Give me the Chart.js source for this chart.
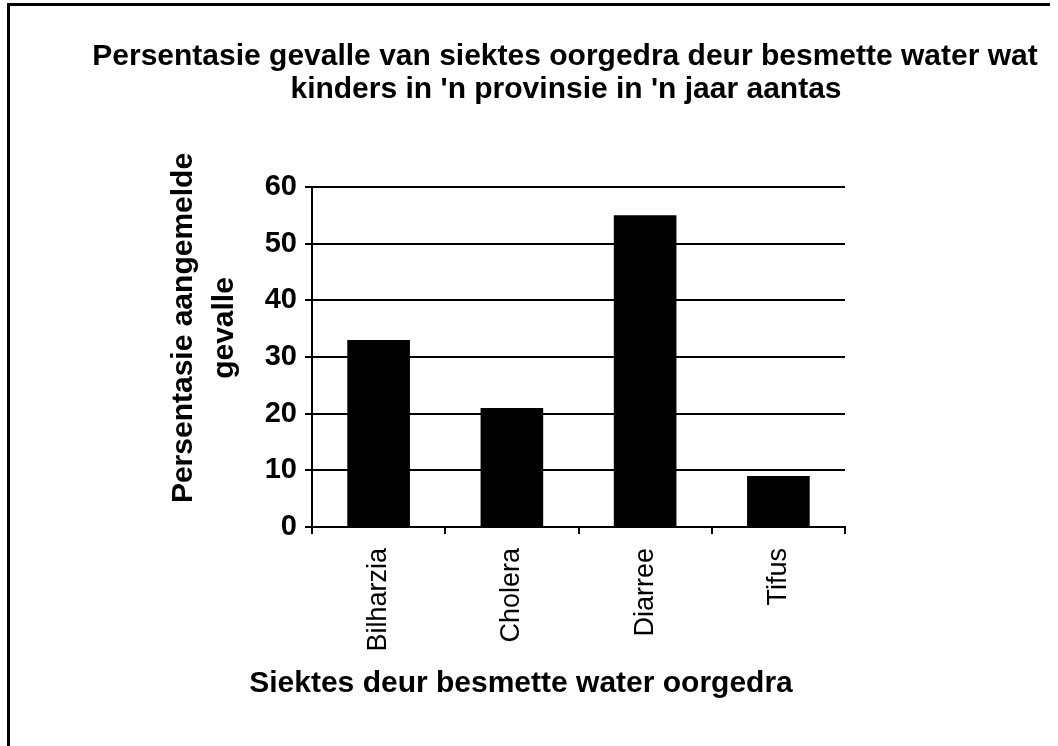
<!DOCTYPE html>
<html>
<head>
<meta charset="utf-8">
<script src="https://cdn.jsdelivr.net/npm/chart.js@4.4.0/dist/chart.umd.min.js"></script>
<style>
  html, body { margin: 0; padding: 0; background: #fff; }
  #wrap { position: relative; width: 1058px; height: 746px; overflow: hidden; }
  #frame { position: absolute; left: 7px; top: 3px; width: 1043px; height: 760px;
           border-top: 3px solid #000; border-left: 3px solid #000; box-sizing: border-box; }
  canvas { position: absolute; left: 0; top: 0; }
</style>
</head>
<body>
<div id="wrap">
  <div id="frame"></div>
  <canvas id="grafico" width="1058" height="746"></canvas>
</div>
<script>
const categorias = ["Bilharzia", "Cholera", "Diarree", "Tifus"];
const persentasie = [33, 21, 55, 9];
const tituloLinhas = ["Persentasie gevalle van siektes oorgedra deur besmette water wat", "kinders in 'n provinsie in 'n jaar aantas"];
const tituloY = ["Persentasie aangemelde", "gevalle"];
const tituloX = "Siektes deur besmette water oorgedra";
const yMin = 0, yMax = 60, yPasso = 10;

const fonte = "'Liberation Sans', Arial, sans-serif";

// titles are not centred on the plot area in the original, so draw them by hand
const textos = {
  id: "textos",
  afterDraw(chart) {
    const ctx = chart.ctx;
    ctx.save();
    ctx.fillStyle = "#000";
    ctx.textAlign = "center";
    ctx.textBaseline = "alphabetic";
    ctx.font = "bold 30px " + fonte;
    ctx.fillText(tituloLinhas[0], 565, 65);
    ctx.fillText(tituloLinhas[1], 566, 98);

    ctx.fillText(tituloX, 521, 692);

    ctx.translate(0, 328);
    ctx.rotate(-Math.PI / 2);
    ctx.fillText(tituloY[0], 0, 192);
    ctx.fillText(tituloY[1], 0, 233);
    ctx.restore();
  }
};

new Chart(document.getElementById("grafico").getContext("2d"), {
  type: "bar",
  data: {
    labels: categorias,
    datasets: [{
      data: persentasie,
      backgroundColor: "#000",
      borderWidth: 0,
      categoryPercentage: 1,
      barPercentage: 0.47
    }]
  },
  options: {
    responsive: false,
    animation: false,
    layout: { padding: { left: 252, right: 213, top: 187, bottom: 0 } },
    plugins: { legend: { display: false }, title: { display: false }, tooltip: { enabled: false } },
    scales: {
      x: {
        afterFit: s => { s.height = 219; },
        grid: { drawOnChartArea: false, drawTicks: true, tickLength: 7, color: "#000", lineWidth: 2 },
        border: { display: true, color: "#000", width: 2 },
        ticks: { color: "#000", font: { family: fonte, size: 27 }, minRotation: 90, maxRotation: 90, padding: 14 }
      },
      y: {
        min: yMin, max: yMax,
        afterFit: s => { s.width = 60; },
        grid: { color: "#000", lineWidth: 2, tickLength: 7 },
        border: { display: true, color: "#000", width: 2 },
        ticks: { stepSize: yPasso, color: "#000", font: { family: fonte, size: 29, weight: "bold" }, padding: 8 }
      }
    }
  },
  plugins: [textos]
});
</script>
</body>
</html>
